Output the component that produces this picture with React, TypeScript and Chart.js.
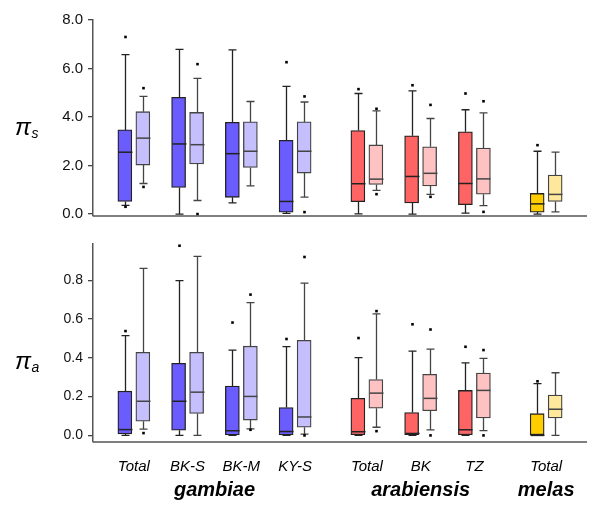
import React, { useEffect, useRef } from 'react';
import { Chart, registerables } from 'chart.js';
Chart.register(...registerables);

// ---------- data ----------
const groupLabels = ['Total', 'BK-S', 'BK-M', 'KY-S', 'Total', 'BK', 'TZ', 'Total'];
const groupSpecies = [0, 0, 0, 0, 1, 1, 1, 2];
const speciesNames = ['gambiae', 'arabiensis', 'melas'];

// box = [lower whisker, Q1, median, Q3, upper whisker]
const piSDark = [
  [0.36, 0.52, 2.55, 3.47, 6.57],
  [0.0, 1.10, 2.89, 4.81, 6.79],
  [0.46, 0.69, 2.49, 3.78, 6.77],
  [0.03, 0.08, 0.52, 3.04, 5.26],
  [0.01, 0.51, 1.25, 3.44, 4.97],
  [0.0, 0.46, 1.55, 3.23, 5.08],
  [0.04, 0.39, 1.26, 3.39, 4.30],
  [0.0, 0.08, 0.42, 0.85, 2.59],
];
const piSDarkOut = [[7.30, 0.30], [], [], [6.26], [5.15], [5.31], [4.97], [2.84]];
const piSLight = [
  [1.26, 2.02, 3.13, 4.22, 4.85],
  [0.56, 2.07, 2.86, 4.19, 5.59],
  [1.16, 1.92, 2.59, 3.80, 4.64],
  [0.70, 1.69, 2.59, 3.80, 4.62],
  [0.98, 1.22, 1.44, 2.85, 4.25],
  [0.81, 1.16, 1.68, 2.77, 3.94],
  [0.35, 0.82, 1.45, 2.72, 4.17],
  [0.09, 0.52, 0.81, 1.61, 2.55],
];
const piSLightOut = [[5.19, 1.12], [6.18, 0.0], [], [4.85, 0.08], [4.34, 0.82], [4.50, 0.71], [4.65, 0.09], []];

const piADark = [
  [0, 0.008, 0.030, 0.228, 0.514],
  [0, 0.027, 0.176, 0.372, 0.798],
  [0, 0.002, 0.024, 0.254, 0.440],
  [0, 0.002, 0.020, 0.144, 0.458],
  [0, 0, 0.019, 0.191, 0.401],
  [0, 0, 0.010, 0.118, 0.435],
  [0, 0, 0.029, 0.232, 0.374],
  [0, 0, 0, 0.112, 0.267],
];
const piADarkOut = [[0.538], [0.978], [0.582], [0.497], [0.502], [0.573], [0.457], [0.279]];
const piALight = [
  [0.032, 0.073, 0.176, 0.428, 0.861],
  [0, 0.113, 0.223, 0.428, 0.923],
  [0.034, 0.079, 0.201, 0.460, 0.685],
  [0.007, 0.042, 0.095, 0.490, 0.785],
  [0.042, 0.140, 0.218, 0.288, 0.627],
  [0.029, 0.127, 0.191, 0.315, 0.445],
  [0.025, 0.090, 0.232, 0.321, 0.397],
  [0, 0.090, 0.135, 0.208, 0.323],
];
const piALightOut = [[0.012], [], [0.726, 0.029], [0.920, 0.0], [0.641, 0.022], [0.546, 0.0], [0.440, 0.0], []];

const piSTicks = [0, 2, 4, 6, 8];
const piATicks = [0, 0.2, 0.4, 0.6, 0.8];

// ---------- styles ----------
const darkFill = ['#6b5cfe', '#ff6464', '#ffcc00'];
const lightFill = ['#c6bffe', '#ffc2c2', '#ffe89c'];
const SPECIES_GAP = 0.335;
const PAIR_OFFSET = 0.1675;
const groupPos = groupSpecies.map((s, i) => i + s * SPECIES_GAP);

type Panel = {
  dark: number[][];
  darkOut: number[][];
  light: number[][];
  lightOut: number[][];
  ticks: number[];
  yMin: number;
  yMax: number;
  sub: string;
  titleY: number;
  tickSize: number;
  padTop: number;
  padBottom: number;
  bottomLabels: boolean;
};

function makeConfig(p: Panel): any {
  const series = [
    { boxes: p.dark, outs: p.darkOut, off: -PAIR_OFFSET, fill: darkFill, edge: '#222' },
    { boxes: p.light, outs: p.lightOut, off: PAIR_OFFSET, fill: lightFill, edge: '#444' },
  ];
  const plugin = {
    id: 'boxWhisker',
    beforeDatasetsDraw(chart: any) {
      const ctx = chart.ctx;
      const xs = chart.scales.x;
      const ys = chart.scales.y;
      ctx.save();
      ctx.lineWidth = 1.3;
      series.forEach((s) => {
        ctx.strokeStyle = s.edge;
        s.boxes.forEach((b, i) => {
          const x = Math.round(xs.getPixelForValue(groupPos[i] + s.off)) + 0.5;
          const yMinP = ys.getPixelForValue(b[0]);
          const yQ1 = ys.getPixelForValue(b[1]);
          const yQ3 = ys.getPixelForValue(b[3]);
          const yMaxP = ys.getPixelForValue(b[4]);
          ctx.beginPath();
          ctx.moveTo(x, yQ3); ctx.lineTo(x, yMaxP);
          ctx.moveTo(x - 4, yMaxP); ctx.lineTo(x + 4, yMaxP);
          ctx.moveTo(x, yQ1); ctx.lineTo(x, yMinP);
          ctx.moveTo(x - 4, yMinP); ctx.lineTo(x + 4, yMinP);
          ctx.stroke();
        });
      });
      ctx.restore();
    },
    afterDatasetsDraw(chart: any) {
      const ctx = chart.ctx;
      const xs = chart.scales.x;
      const ys = chart.scales.y;
      ctx.save();
      series.forEach((s) => {
        s.boxes.forEach((b, i) => {
          const x = Math.round(xs.getPixelForValue(groupPos[i] + s.off)) + 0.5;
          const yMed = ys.getPixelForValue(b[2]);
          ctx.strokeStyle = s.edge;
          ctx.lineWidth = 1.5;
          ctx.beginPath();
          ctx.moveTo(x - 7, yMed); ctx.lineTo(x + 7, yMed);
          ctx.stroke();
          ctx.fillStyle = '#000';
          s.outs[i].forEach((v) => {
            const y = ys.getPixelForValue(v);
            ctx.fillRect(x - 1.3, y - 1.3, 2.6, 2.6);
          });
        });
      });
      ctx.restore();
    },
    afterDraw(chart: any) {
      const ctx = chart.ctx;
      const a = chart.chartArea;
      const xs = chart.scales.x;
      ctx.save();
      // x-axis baseline
      ctx.strokeStyle = '#555';
      ctx.lineWidth = 1.5;
      ctx.beginPath();
      ctx.moveTo(a.left, a.bottom);
      ctx.lineTo(a.right, a.bottom);
      ctx.stroke();
      // y-axis title: pi with subscript
      ctx.fillStyle = '#000';
      ctx.textBaseline = 'alphabetic';
      ctx.textAlign = 'left';
      ctx.font = 'italic 24px Arial, "Liberation Sans", sans-serif';
      ctx.fillText('\u03c0', 15, p.titleY);
      const w = ctx.measureText('\u03c0').width;
      ctx.font = 'italic 14px Arial, "Liberation Sans", sans-serif';
      ctx.fillText(p.sub, 15 + w + 0.5, p.titleY + 3);
      if (p.bottomLabels) {
        ctx.textAlign = 'center';
        ctx.font = 'italic 15px Arial, "Liberation Sans", sans-serif';
        groupLabels.forEach((lab, i) => {
          ctx.fillText(lab, xs.getPixelForValue(groupPos[i]), a.bottom + 29);
        });
        ctx.font = 'italic bold 20px Arial, "Liberation Sans", sans-serif';
        speciesNames.forEach((name, s) => {
          const idx = groupPos.filter((_, i) => groupSpecies[i] === s);
          const mid = (Math.min(...idx) + Math.max(...idx)) / 2;
          ctx.fillText(name, xs.getPixelForValue(mid), a.bottom + 54);
        });
      }
      ctx.restore();
    },
  };

  const mkDataset = (s: any) => ({
    type: 'bar',
    data: s.boxes.map((b: number[], i: number) => ({ x: groupPos[i] + s.off, y: [b[1], b[3]] })),
    backgroundColor: s.boxes.map((_: any, i: number) => s.fill[groupSpecies[i]]),
    borderColor: s.edge,
    borderWidth: 1.3,
    borderSkipped: false,
    barThickness: 14,
    grouped: false,
  });

  return {
    type: 'bar',
    data: { datasets: series.map(mkDataset) },
    options: {
      animation: false,
      responsive: true,
      maintainAspectRatio: false,
      layout: { padding: { left: 0, right: 13, top: p.padTop, bottom: p.padBottom } },
      plugins: { legend: { display: false }, tooltip: { enabled: false } },
      scales: {
        x: { type: 'linear', min: -0.76, max: 8.43, offset: false, display: false },
        y: {
          type: 'linear',
          min: p.yMin,
          max: p.yMax,
          afterBuildTicks: (sc: any) => {
            sc.ticks = p.ticks.map((v) => ({ value: v }));
          },
          afterFit: (sc: any) => {
            sc.width = 93;
          },
          ticks: {
            callback: (v: any) => Number(v).toFixed(1),
            font: { family: 'Arial, "Liberation Sans", sans-serif', size: p.tickSize },
            color: '#111',
            padding: 5,
          },
          grid: { drawOnChartArea: false, drawTicks: true, tickLength: 5, color: '#444', lineWidth: 1.3 },
          border: { display: true, color: '#555', width: 1.5 },
        },
      },
    },
    plugins: [plugin],
  };
}

const topPanel: Panel = {
  dark: piSDark, darkOut: piSDarkOut, light: piSLight, lightOut: piSLightOut,
  ticks: piSTicks, yMin: -0.08, yMax: 8, sub: 's', titleY: 135, tickSize: 15,
  padTop: 20, padBottom: 9, bottomLabels: false,
};
const bottomPanel: Panel = {
  dark: piADark, darkOut: piADarkOut, light: piALight, lightOut: piALightOut,
  ticks: piATicks, yMin: -0.034, yMax: 0.99, sub: 'a', titleY: 139, tickSize: 14,
  padTop: 10, padBottom: 67, bottomLabels: true,
};

export default function App() {
  const topRef = useRef<HTMLCanvasElement>(null);
  const botRef = useRef<HTMLCanvasElement>(null);
  useEffect(() => {
    const c1 = new Chart(topRef.current as HTMLCanvasElement, makeConfig(topPanel));
    const c2 = new Chart(botRef.current as HTMLCanvasElement, makeConfig(bottomPanel));
    return () => {
      c1.destroy();
      c2.destroy();
    };
  }, []);
  return (
    <div style={{ position: 'absolute', left: 0, top: 0, width: 600, height: 509, background: '#fff' }}>
      <div style={{ position: 'absolute', left: 0, top: 0, width: 600, height: 230 }}>
        <canvas ref={topRef} />
      </div>
      <div style={{ position: 'absolute', left: 0, top: 230, width: 600, height: 279 }}>
        <canvas ref={botRef} />
      </div>
    </div>
  );
}
